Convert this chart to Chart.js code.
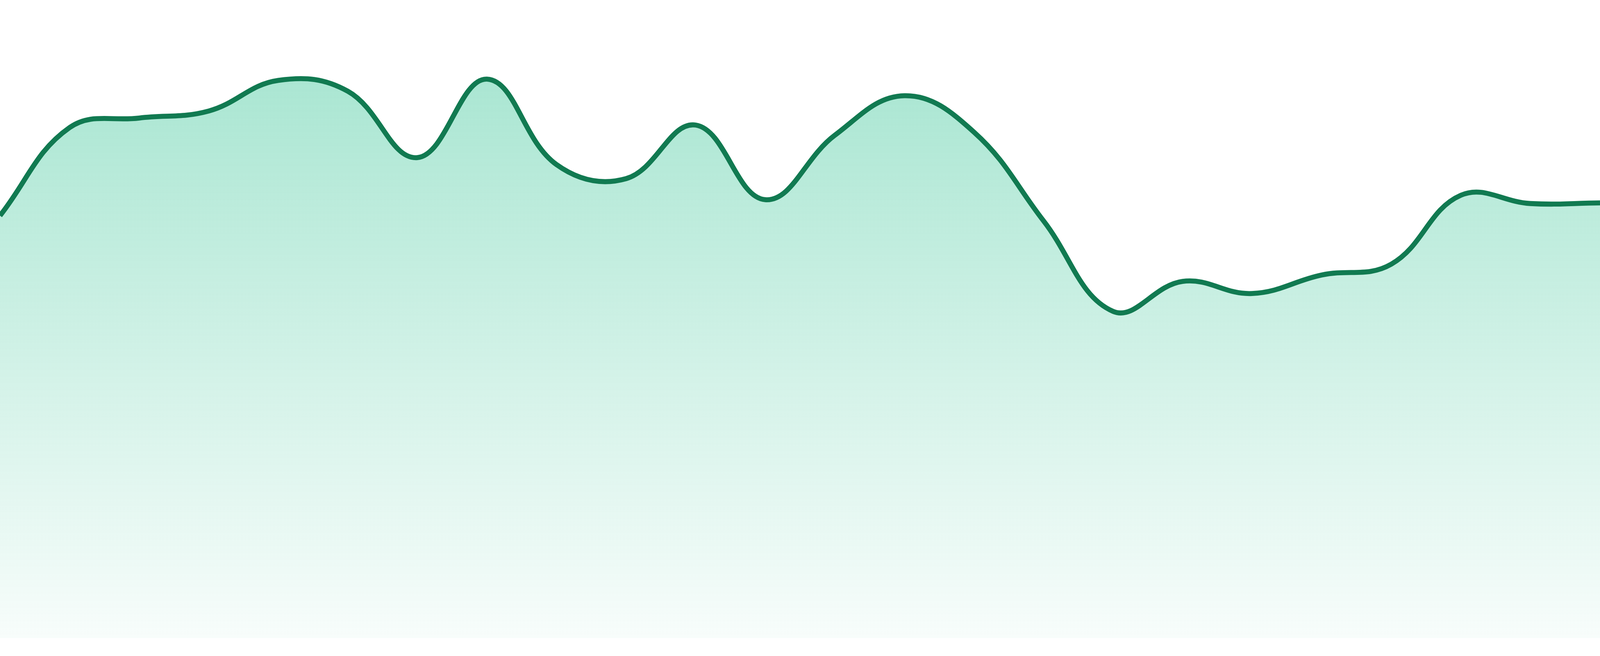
<!DOCTYPE html>
<html>
<head>
<meta charset="utf-8">
<script src="https://cdn.jsdelivr.net/npm/chart.js@4/dist/chart.umd.min.js"></script>
<style>
  html, body { margin: 0; padding: 0; background: #fff; overflow: hidden; }
  #wrap { width: 100vw; height: 100vh; position: relative; }
</style>
</head>
<body>
<div id="wrap"><canvas id="areaChart"></canvas></div>
<script>
// Data (24 evenly spaced points, y on a 0-100 scale)
const labels = Array.from({ length: 24 }, (_, i) => `P${i + 1}`);
const values = [
  66.2, 80.0, 81.5, 82.6, 87.4, 85.7, 75.3, 87.6, 74.2, 72.0, 80.4, 68.7,
  78.8, 85.0, 79.3, 65.4, 51.2, 55.9, 54.0, 56.9, 58.6, 69.4, 68.1, 68.2
];
const yMin = 0;
const yMax = 100;

const lineColor = '#117a51';

// the reference is 4800x1680; scale sizes to whatever viewport we get
const unit = window.innerWidth / 4800;

// Fill gradient, fades out towards the bottom of the chart area
function areaGradient(context) {
  const { ctx, chartArea } = context.chart;
  if (!chartArea) return 'rgba(16, 185, 129, 0.2)';
  const g = ctx.createLinearGradient(0, chartArea.top, 0, chartArea.bottom);
  g.addColorStop(0, 'rgba(16, 185, 129, 0.40)');
  g.addColorStop(1, 'rgba(16, 185, 129, 0.03)');
  return g;
}

const ctx = document.getElementById('areaChart').getContext('2d');
new Chart(ctx, {
  type: 'line',
  data: {
    labels: labels,
    datasets: [{
      data: values,
      borderColor: lineColor,
      borderWidth: 15 * unit,
      backgroundColor: areaGradient,
      fill: 'origin',
      tension: 0.4,
      pointRadius: 0,
      pointHoverRadius: 0
    }]
  },
  options: {
    responsive: true,
    maintainAspectRatio: false,
    animation: false,
    layout: { padding: { left: 0, right: 0, top: 0, bottom: window.innerHeight * 46 / 1680 } },
    scales: {
      x: { display: false, offset: false },
      y: { display: false, min: yMin, max: yMax }
    },
    plugins: {
      legend: { display: false },
      tooltip: { enabled: false }
    }
  }
});
</script>
</body>
</html>
